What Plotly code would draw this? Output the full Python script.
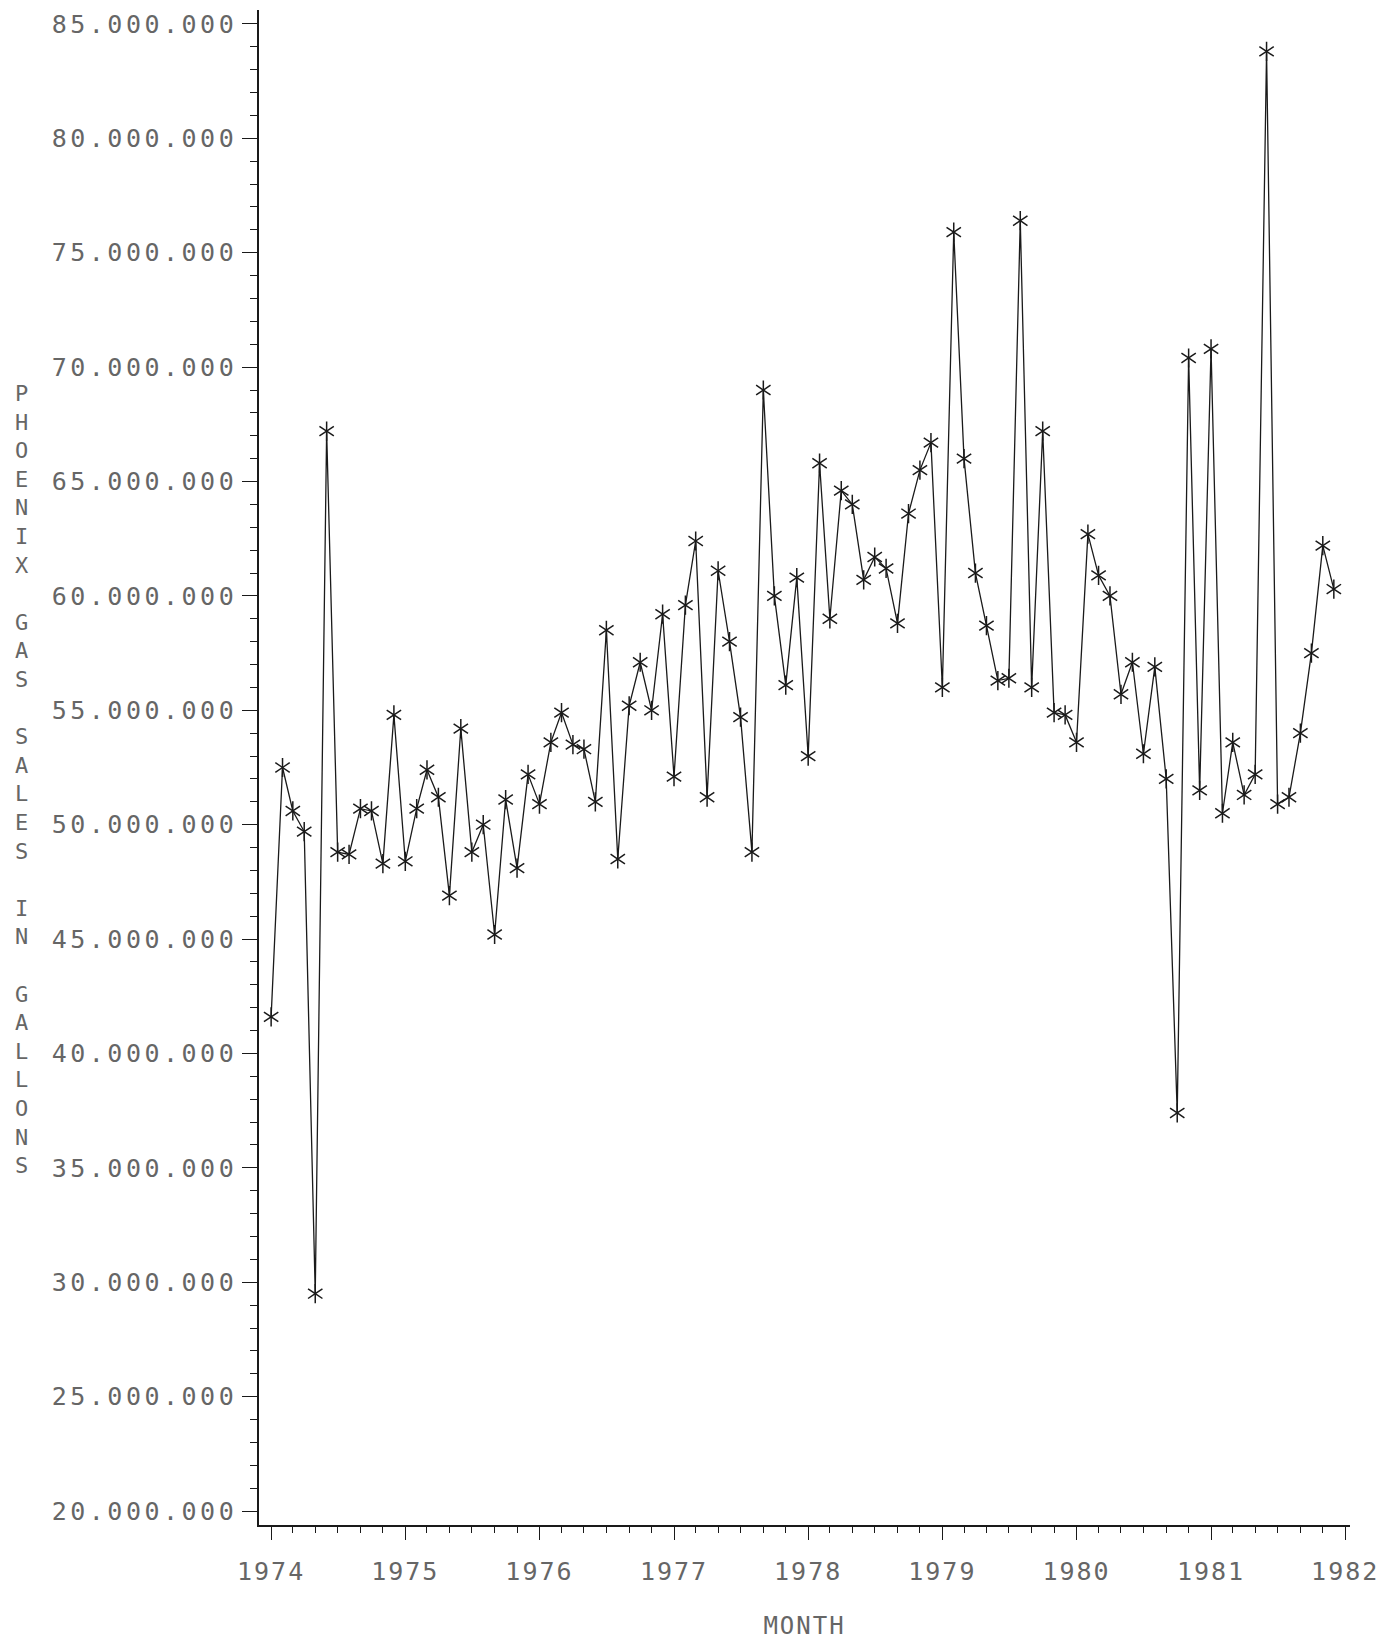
import plotly.graph_objects as go
import pandas as pd

# Monthly Phoenix gas sales (gallons), Jan 1974 - Dec 1981 (millions)
sales_millions = [
    41.6, 52.5, 50.6, 49.7, 29.5, 67.2, 48.8, 48.7, 50.7, 50.6, 48.3, 54.8,   # 1974
    48.4, 50.7, 52.4, 51.2, 46.9, 54.2, 48.8, 50.0, 45.2, 51.1, 48.1, 52.2,   # 1975
    50.9, 53.6, 54.9, 53.5, 53.3, 51.0, 58.5, 48.5, 55.2, 57.1, 55.0, 59.2,   # 1976
    52.1, 59.6, 62.4, 51.2, 61.1, 58.0, 54.7, 48.8, 69.0, 60.0, 56.1, 60.8,   # 1977
    53.0, 65.8, 59.0, 64.6, 64.0, 60.7, 61.7, 61.2, 58.8, 63.6, 65.5, 66.7,   # 1978
    56.0, 75.9, 66.0, 61.0, 58.7, 56.3, 56.4, 76.4, 56.0, 67.2, 54.9, 54.8,   # 1979
    53.6, 62.7, 60.9, 60.0, 55.7, 57.1, 53.1, 56.9, 52.0, 37.4, 70.4, 51.5,   # 1980
    70.8, 50.5, 53.6, 51.3, 52.2, 83.8, 50.9, 51.2, 54.0, 57.5, 62.2, 60.3,   # 1981
]
months = pd.date_range("1974-01-01", periods=len(sales_millions), freq="MS")
sales = [v * 1_000_000 for v in sales_millions]

y_tick_values = [20e6, 25e6, 30e6, 35e6, 40e6, 45e6, 50e6, 55e6, 60e6, 65e6, 70e6, 75e6, 80e6, 85e6]
y_tick_labels = ["20.000.000", "25.000.000", "30.000.000", "35.000.000", "40.000.000",
                 "45.000.000", "50.000.000", "55.000.000", "60.000.000", "65.000.000",
                 "70.000.000", "75.000.000", "80.000.000", "85.000.000"]
x_title = "MONTH"
y_title = "PHOENIX GAS SALES IN GALLONS"

FONT = "DejaVu Sans Mono"
TXT = "#666666"
INK = "#1a1a1a"

fig = go.Figure()
fig.add_trace(go.Scatter(
    x=months, y=sales, mode="lines+markers",
    line=dict(color=INK, width=1.3),
    marker=dict(symbol="y-up-open", size=12, color=INK, line=dict(color=INK, width=1.5)),
    showlegend=False, hoverinfo="skip",
))
fig.add_trace(go.Scatter(
    x=months, y=sales, mode="markers",
    marker=dict(symbol="y-down-open", size=12, color=INK, line=dict(color=INK, width=1.5)),
    showlegend=False, hoverinfo="skip",
))

fig.update_layout(
    width=1391, height=1645,
    margin=dict(l=259, r=41, t=10, b=117),
    paper_bgcolor="white", plot_bgcolor="white",
    font=dict(family=FONT, color=TXT, size=25),
)

fig.update_xaxes(
    type="date",
    range=["1973-11-29", "1982-01-14"],
    tickformat="%Y", dtick="M12", tick0="1974-01-01",
    ticks="outside", ticklen=13, tickwidth=1.2, tickcolor=INK,
    ticklabelstandoff=10,
    minor=dict(dtick="M2", ticks="outside", ticklen=6, tickwidth=1, tickcolor=INK),
    showline=True, linecolor=INK, linewidth=1.6,
    showgrid=False, zeroline=False,
    tickfont=dict(family=FONT, size=25, color=TXT),
    title=dict(text=x_title, font=dict(family=FONT, size=24, color=TXT), standoff=32),
)
fig.update_yaxes(
    range=[19.39e6, 85.61e6],
    tickvals=y_tick_values, ticktext=y_tick_labels,
    ticks="outside", ticklen=15, tickwidth=1.2, tickcolor=INK,
    minor=dict(dtick=1e6, tick0=0, ticks="outside", ticklen=7, tickwidth=1, tickcolor=INK),
    showline=True, linecolor=INK, linewidth=1.6,
    showgrid=False, zeroline=False,
    tickfont=dict(family=FONT, size=25, color=TXT),
)

fig.add_annotation(
    xref="paper", yref="paper", x=-0.217, y=0.492,
    xanchor="center", yanchor="middle", showarrow=False,
    text="<br>".join(ch if ch != " " else "\u00a0" for ch in y_title),
    font=dict(family=FONT, size=22, color=TXT), align="center",
)

post = """
var s=document.createElement('style');
s.textContent='.ytick text{letter-spacing:3.5px;} .xtick text{letter-spacing:2px;} .xtitle{letter-spacing:2px;}';
document.head.appendChild(s);
"""
fig.write_html("out.html", post_script=post)
